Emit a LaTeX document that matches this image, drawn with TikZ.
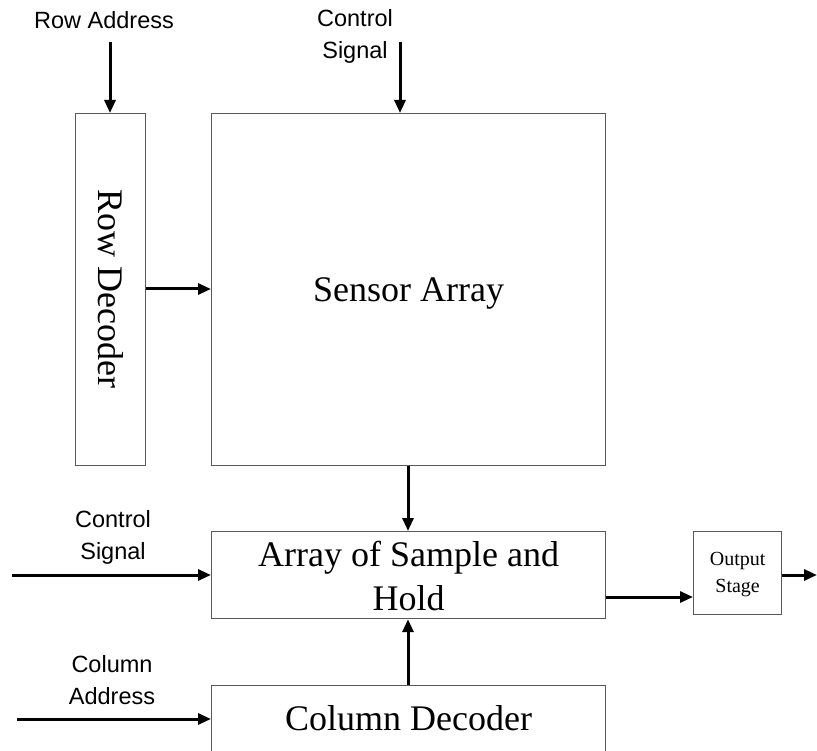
\documentclass[tikz,border=0pt]{standalone}
\usepackage{fontspec}
\setmainfont{Liberation Serif}
\setsansfont{Liberation Sans}
\usetikzlibrary{arrows.meta}
\begin{document}
\begin{tikzpicture}[x=1pt,y=-1pt,
  blockbox/.style={draw=black!65,line width=1.2pt,inner sep=0pt,anchor=north west},
  bigtext/.style={font=\fontsize{36}{44}\selectfont,align=center,inner sep=0pt},
  sig/.style={line width=3pt,-{Triangle[length=13pt,width=11pt]}},
  lbl/.style={font=\sffamily\fontsize{23.5}{32}\selectfont,align=center,inner sep=0pt}]
\useasboundingbox (0,0) rectangle (817,751);

% blocks
\node[blockbox,minimum width=70pt,minimum height=352pt] (rowdec) at (75,113) {};
\node[bigtext,rotate=-90] at ([yshift=1pt]rowdec.center) {Row Decoder};
\node[blockbox,minimum width=394pt,minimum height=352pt] (sensor) at (211,113) {};
\node[bigtext] at ([yshift=-4pt]sensor.center) {Sensor Array};
\node[blockbox,minimum width=394pt,minimum height=87pt] (sh) at (211,531) {};
\node[bigtext] at ([yshift=-1pt]sh.center) {Array of Sample and\\Hold};
\node[blockbox,minimum width=394pt,minimum height=66pt] (coldec) at (211,685) {};
\node[bigtext] at ([yshift=0pt]coldec.center) {Column Decoder};
\node[blockbox,minimum width=88pt,minimum height=83pt] (out) at (693,531) {};
\node[font=\fontsize{20}{27}\selectfont,align=center] at ([yshift=-1pt]out.center) {Output\\Stage};

% free ends of the input and output lines
\coordinate (ra) at (110,42);
\coordinate (cst) at (400,42);
\coordinate (csl) at (12,575);
\coordinate (ca) at (17,719);
\coordinate (oe) at (817,575);

% labels
\node[lbl] (ratext) at (104,20) {Row Address};
\node[lbl] (csttext) at (355,36) {Control\\Signal};
\node[lbl] (csltext) at (113,537) {Control\\Signal};
\node[lbl] (catext) at (112,680) {Column\\Address};

% connectors
\draw[sig] (ra) -- (rowdec.north -| ra);
\draw[sig] (cst) -- (sensor.north -| cst);
\draw[sig] (rowdec.east |- 0,289) -- (sensor.west |- 0,289);
\draw[sig] (sensor.south -| 408,0) -- (sh.north -| 408,0);
\draw[sig] (csl) -- (sh.west |- csl);
\draw[sig] (ca) -- (coldec.west |- ca);
\draw[sig] (coldec.north -| 408,0) -- (sh.south -| 408,0);
\draw[sig] (sh.east |- 0,597) -- (out.west |- 0,597);
\draw[sig] (out.east |- oe) -- (oe);
\end{tikzpicture}
\end{document}
